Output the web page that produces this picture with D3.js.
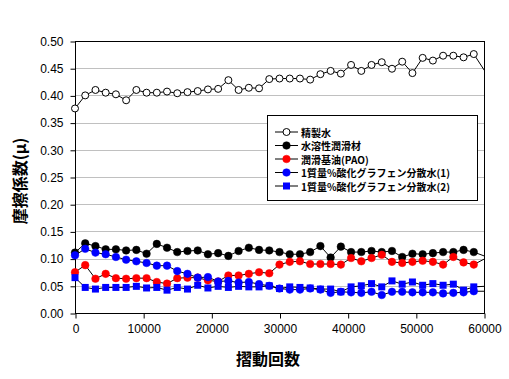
<!DOCTYPE html>
<html>
<head>
<meta charset="utf-8">
<script src="https://cdn.jsdelivr.net/npm/d3@7"></script>
<style>
  body { margin: 0; background: #fff; }
  svg { display: block; }
</style>
</head>
<body>
<div id="chart"></div>
<script>
// sliding cycles (last point lies past the axis end and gets clipped)
var cycles = [0, 1500, 3000, 4500, 6000, 7500, 9000, 10500, 12000, 13500,
  15000, 16500, 18000, 19500, 21000, 22500, 24000, 25500, 27000, 28500,
  30000, 31500, 33000, 34500, 36000, 37500, 39000, 40500, 42000, 43500,
  45000, 46500, 48000, 49500, 51000, 52500, 54000, 55500, 57000, 58500, 61500];

var seriesNames = ["精製水", "水溶性潤滑材", "潤滑基油(PAO)",
  "1質量%酸化グラフェン分散水(1)", "1質量%酸化グラフェン分散水(2)"];

var water = [0.376, 0.400, 0.410, 0.405, 0.402, 0.391, 0.410, 0.405, 0.405, 0.407,
  0.404, 0.406, 0.408, 0.411, 0.412, 0.428, 0.410, 0.414, 0.413, 0.430,
  0.431, 0.431, 0.431, 0.429, 0.439, 0.445, 0.440, 0.456, 0.445, 0.456,
  0.461, 0.449, 0.462, 0.441, 0.469, 0.464, 0.473, 0.473, 0.470, 0.476, 0.418];

var soluble = [0.111, 0.128, 0.123, 0.117, 0.117, 0.115, 0.116, 0.109, 0.127, 0.120,
  0.112, 0.114, 0.115, 0.108, 0.110, 0.105, 0.114, 0.120, 0.116, 0.115,
  0.112, 0.108, 0.108, 0.112, 0.123, 0.102, 0.122, 0.112, 0.112, 0.114,
  0.112, 0.114, 0.103, 0.109, 0.108, 0.110, 0.112, 0.112, 0.116, 0.112, 0.098];

var pao = [0.075, 0.088, 0.063, 0.072, 0.064, 0.063, 0.064, 0.064, 0.057, 0.054,
  0.064, 0.065, 0.065, 0.060, 0.058, 0.069, 0.069, 0.072, 0.075, 0.073,
  0.089, 0.094, 0.095, 0.090, 0.090, 0.090, 0.089, 0.101, 0.095, 0.101,
  0.107, 0.094, 0.092, 0.094, 0.096, 0.094, 0.089, 0.103, 0.093, 0.089, 0.109];

var go1 = [0.106, 0.118, 0.111, 0.108, 0.103, 0.098, 0.095, 0.092, 0.087, 0.087,
  0.077, 0.072, 0.065, 0.066, 0.058, 0.059, 0.056, 0.057, 0.053, 0.050,
  0.045, 0.043, 0.043, 0.045, 0.043, 0.037, 0.039, 0.038, 0.037, 0.039,
  0.033, 0.039, 0.039, 0.038, 0.038, 0.038, 0.036, 0.037, 0.038, 0.040, 0.040];

var go2 = [0.065, 0.047, 0.044, 0.047, 0.047, 0.047, 0.049, 0.046, 0.047, 0.042,
  0.047, 0.044, 0.051, 0.046, 0.049, 0.047, 0.049, 0.048, 0.048, 0.050,
  0.045, 0.048, 0.047, 0.046, 0.044, 0.044, 0.039, 0.048, 0.050, 0.054,
  0.048, 0.059, 0.053, 0.057, 0.051, 0.054, 0.051, 0.053, 0.042, 0.048, 0.050];

var yTicks = [0, 0.05, 0.10, 0.15, 0.20, 0.25, 0.30, 0.35, 0.40, 0.45, 0.50];
var xTicks = [0, 10000, 20000, 30000, 40000, 50000, 60000];

var w = 509, h = 379;
var plotL = 75, plotR = 484, plotT = 41, plotB = 313;
var jpFont = "'Noto Sans CJK JP', sans-serif";
var numFont = "'Liberation Sans', Arial, sans-serif";

var svg = d3.select("#chart").append("svg").attr("width", w).attr("height", h);

var x = d3.scaleLinear().domain([0, 60000]).range([plotL, plotR]);
var y = d3.scaleLinear().domain([0, 0.5]).range([plotB, plotT]);

// gridlines
svg.append("g").selectAll("line").data(yTicks.slice(1, -1)).enter().append("line")
    .attr("x1", plotL).attr("x2", plotR)
    .attr("y1", function(d) { return Math.round(y(d)) + 0.5; })
    .attr("y2", function(d) { return Math.round(y(d)) + 0.5; })
    .attr("stroke", "#c0c0c0").attr("stroke-width", 1);

// frame
svg.append("rect")
    .attr("x", plotL + 0.5).attr("y", plotT + 0.5)
    .attr("width", plotR - plotL).attr("height", plotB - plotT)
    .attr("fill", "none").attr("stroke", "black");

var yAxis = svg.append("g")
    .attr("transform", "translate(" + (plotL + 0.5) + ",0.5)")
    .call(d3.axisLeft(y).tickValues(yTicks).tickSize(5).tickPadding(7)
        .tickFormat(d3.format(".2f")));
var xAxis = svg.append("g")
    .attr("transform", "translate(0.5," + (plotB + 0.5) + ")")
    .call(d3.axisBottom(x).tickValues(xTicks).tickSize(5).tickPadding(6)
        .tickFormat(d3.format("d")));
[xAxis, yAxis].forEach(function(a) {
    a.select(".domain").remove();
    a.selectAll("line").attr("stroke", "black");
    a.selectAll("text").attr("font-family", numFont).attr("font-size", "12px").attr("fill", "black");
});

svg.append("clipPath").attr("id", "plotclip").append("rect")
    .attr("x", 0).attr("y", 0).attr("width", plotR + 0.5).attr("height", h);

var series = [
    {name: seriesNames[0], vals: water, shape: "circle", fill: "white", stroke: "black", r: 3.5},
    {name: seriesNames[1], vals: soluble, shape: "circle", fill: "black", stroke: "black", r: 3.8},
    {name: seriesNames[2], vals: pao, shape: "circle", fill: "red", stroke: "red", r: 3.8},
    {name: seriesNames[3], vals: go1, shape: "circle", fill: "#0000ff", stroke: "#0000ff", r: 3.8},
    {name: seriesNames[4], vals: go2, shape: "square", fill: "#0000ff", stroke: "#0000ff", r: 3.5}
];

var line = d3.line()
    .x(function(d) { return x(d[0]); })
    .y(function(d) { return y(d[1]); });

function drawMarker(g, s, cx, cy) {
    if (s.shape === "square") {
        g.append("rect").attr("x", cx - s.r).attr("y", cy - s.r)
            .attr("width", s.r * 2).attr("height", s.r * 2)
            .attr("fill", s.fill).attr("stroke", "none");
    } else {
        g.append("circle").attr("cx", cx).attr("cy", cy).attr("r", s.r)
            .attr("fill", s.fill).attr("stroke", s.stroke)
            .attr("stroke-width", s.fill === "white" ? 1 : 0.5);
    }
}

series.forEach(function(s) {
    var pts = cycles.map(function(c, i) { return [c, s.vals[i]]; });
    var g = svg.append("g");
    g.append("path").datum(pts)
        .attr("clip-path", "url(#plotclip)")
        .attr("d", line)
        .attr("fill", "none").attr("stroke", "black").attr("stroke-width", 1);
    pts.forEach(function(p) {
        if (p[0] > 60000) return;
        drawMarker(g, s, x(p[0]), y(p[1]));
    });
});

// legend
var lg = svg.append("g").attr("transform", "translate(267,115)");
lg.append("rect").attr("x", 0.5).attr("y", 0.5).attr("width", 210).attr("height", 85)
    .attr("fill", "white").attr("stroke", "black");
series.forEach(function(s, i) {
    var ly = 17 + i * 13.5;
    lg.append("line").attr("x1", 8).attr("x2", 31).attr("y1", ly).attr("y2", ly)
        .attr("stroke", "black");
    drawMarker(lg, s, 19.5, ly);
    lg.append("text").attr("x", 34).attr("y", ly)
        .attr("dominant-baseline", "central")
        .attr("font-family", jpFont).attr("font-weight", "bold")
        .attr("font-size", "10px").text(s.name);
});

// axis titles
svg.append("text")
    .attr("transform", "translate(19,181) rotate(-90)")
    .attr("text-anchor", "middle").attr("dominant-baseline", "central")
    .attr("font-family", jpFont).attr("font-weight", "bold").attr("font-size", "16px")
    .text("摩擦係数(μ)");
svg.append("text")
    .attr("x", 268).attr("y", 358)
    .attr("text-anchor", "middle").attr("dominant-baseline", "central")
    .attr("font-family", jpFont).attr("font-weight", "bold").attr("font-size", "16px")
    .text("摺動回数");
</script>
</body>
</html>
